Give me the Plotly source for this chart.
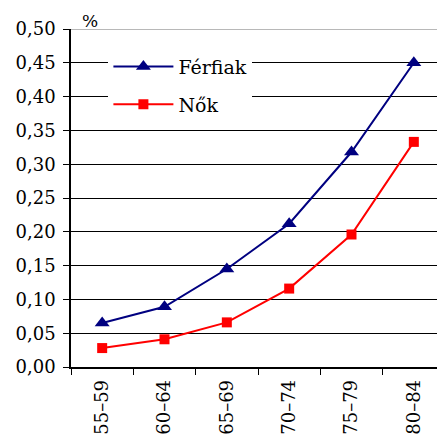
import plotly.graph_objects as go

categories = ["55–59", "60–64", "65–69", "70–74", "75–79", "80–84"]
ferfiak = [0.065, 0.089, 0.145, 0.212, 0.318, 0.450]
nok = [0.028, 0.041, 0.066, 0.116, 0.196, 0.333]
y_ticks = [0, 0.05, 0.10, 0.15, 0.20, 0.25, 0.30, 0.35, 0.40, 0.45, 0.50]
y_labels = ["0,00", "0,05", "0,10", "0,15", "0,20", "0,25", "0,30", "0,35", "0,40", "0,45", "0,50"]

FONT = "DejaVu Serif"

fig = go.Figure()
fig.add_trace(go.Scatter(x=categories, y=ferfiak, name="Férfiak", mode="lines+markers",
                         legendgroup="f",
                         line=dict(color="#000080", width=2),
                         marker=dict(symbol="triangle-up", size=13, color="#000080")))
fig.add_trace(go.Scatter(x=categories, y=nok, name="Nők", mode="lines+markers",
                         legendgroup="n",
                         line=dict(color="#FF0000", width=2),
                         marker=dict(symbol="square", size=10, color="#FF0000")))

fig.update_layout(
    width=445, height=440,
    margin=dict(l=61, r=8, t=21, b=81),
    paper_bgcolor="white", plot_bgcolor="white",
    font=dict(family=FONT, size=18, color="black"),
    showlegend=True,
    legend=dict(x=0.10, y=0.945, xanchor="left", yanchor="top",
                bgcolor="white", font=dict(family=FONT, size=19, color="black"),
                tracegroupgap=10, itemwidth=60),
    xaxis=dict(type="category", range=[-0.5, 5.5], showgrid=False,
               showline=True, linecolor="black", linewidth=1.5,
               ticks="outside", tickson="boundaries", ticklen=6, tickcolor="black",
               tickangle=-90, tickfont=dict(family=FONT, size=18),
               ticklabelstandoff=4),
    yaxis=dict(range=[0, 0.5], tickvals=y_ticks, ticktext=y_labels,
               showgrid=True, gridcolor="black", gridwidth=1,
               showline=True, linecolor="black", linewidth=1.5,
               ticks="outside", ticklen=6, tickcolor="black",
               tickfont=dict(family=FONT, size=18), zeroline=False,
               ticklabelstandoff=4),
    annotations=[dict(text="%", xref="paper", yref="paper", x=0.05, y=1.0,
                      xanchor="center", yanchor="bottom", yshift=-4, showarrow=False,
                      font=dict(family=FONT, size=17))],
    shapes=[dict(type="line", xref="paper", yref="y", x0=0, x1=1, y0=0.5, y1=0.5,
                 line=dict(color="#A0A0A0", width=1.5), layer="above")],
)

fig.write_html("out.html")
